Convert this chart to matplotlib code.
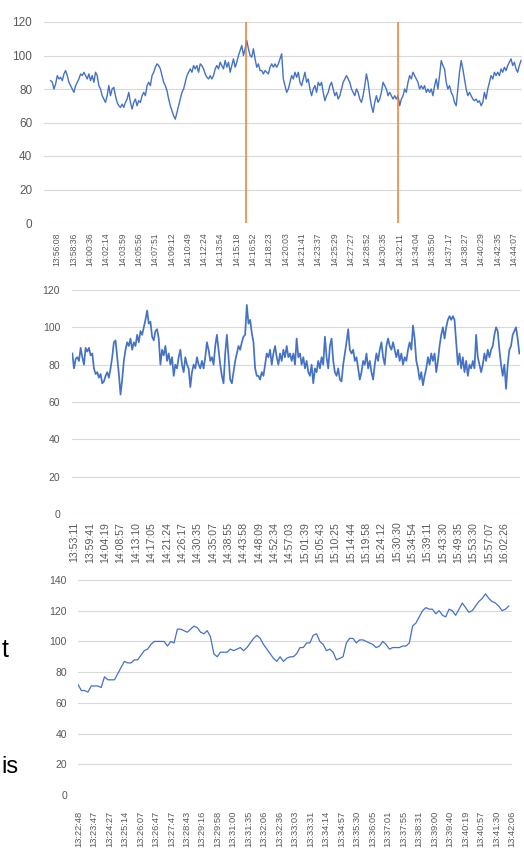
import numpy as np
import matplotlib
matplotlib.use('Agg')
import matplotlib.pyplot as plt

plt.rcParams['font.family'] = ['Liberation Sans', 'DejaVu Sans']

# chart 1: one reading every 5 samples
hr1 = [85, 84, 80, 83, 88, 86, 87, 85, 89, 91, 88, 84, 82, 80, 78, 82, 84, 86, 89, 88,
       90, 88, 86, 89, 85, 88, 84, 90, 88, 82, 80, 76, 74, 72, 76, 82, 76, 80, 81, 76,
       72, 70, 69, 71, 69, 72, 74, 78, 72, 68, 72, 74, 70, 73, 72, 76, 78, 76, 82, 84,
       82, 88, 90, 93, 95, 94, 92, 88, 84, 82, 79, 74, 70, 67, 64, 62, 66, 70, 74, 78,
       80, 84, 88, 90, 92, 90, 94, 92, 94, 90, 95, 94, 92, 89, 87, 86, 88, 86, 88, 92,
       94, 92, 96, 94, 92, 97, 93, 96, 90, 94, 98, 93, 96, 100, 103, 106, 100, 104, 109, 104,
       100, 99, 104, 98, 93, 95, 91, 91, 89, 91, 90, 89, 93, 95, 93, 95, 93, 95, 98, 101,
       86,
       82, 78, 80, 84, 88, 86, 90, 87, 90, 84, 82, 86, 90, 84, 86, 80, 76, 80, 82, 78,
       84, 82, 84, 78, 73, 76, 78, 82, 84, 80, 76, 78, 74, 76, 80, 84, 86, 88, 86, 84,
       80, 78, 76, 80, 78, 74, 72, 76, 82, 89, 84, 76, 70, 66, 72, 76, 72, 74, 78, 84,
       82, 80, 76, 78, 76, 74, 76, 74, 76, 70, 74, 76, 80, 78, 84, 88, 86, 90, 88, 86,
       84, 80, 82, 80, 82, 78, 80, 78, 80, 76, 82, 86, 80, 88, 97, 94, 92, 84, 80, 82,
       78, 76, 72, 70, 80, 90, 97, 92, 86, 80, 76, 78, 76, 74, 73, 74, 72, 73, 70, 72,
       78, 74, 80, 84, 88, 86, 90, 88, 90, 88, 92, 90, 93, 91, 94, 96, 98, 94, 96, 92,
       90, 94, 97]
step1 = 5
marks1 = [588, 1046]
labels1 = ['13:56:08', '13:58:36', '14:00:36', '14:02:14', '14:03:59', '14:05:56', '14:07:51',
           '14:09:12', '14:10:49', '14:12:24', '14:13:54', '14:15:18', '14:16:52', '14:18:23',
           '14:20:03', '14:21:41', '14:23:37', '14:25:29', '14:27:27', '14:28:52', '14:30:35',
           '14:32:11', '14:34:04', '14:35:50', '14:37:17', '14:38:27', '14:40:29', '14:42:35',
           '14:44:07']

# chart 2
hr2 = [86, 78, 83, 84, 82, 89, 84, 80, 89, 87, 89, 85, 86, 78, 75, 76, 73, 75, 70, 71,
       74, 76, 73, 78, 84, 92, 93, 84, 75, 64, 72, 82, 88, 92, 90, 94, 88, 92, 90, 96,
       92, 98, 96, 100, 104, 109, 102, 103, 95, 93, 98, 99, 94, 80, 88, 85, 90, 82, 86, 80,
       84, 74, 80, 78, 84, 88, 80, 76, 84, 80, 78, 68, 76, 80, 78, 84, 80, 78, 82, 78,
       84, 92, 88, 82, 84, 80, 90, 96, 88, 80, 74, 70, 86, 96, 84, 72, 70, 76, 82, 86,
       90, 88, 92, 95, 96, 112, 102, 104, 97, 92, 78, 74, 74, 72, 76, 74, 80, 86, 84, 88,
       80, 86, 90, 84, 80, 86, 82, 88, 84, 90, 84, 86, 82, 86, 80,
       94, 84, 86, 80, 84, 78, 82, 76, 74, 80, 70, 78, 76, 82, 78, 84, 80, 95, 84, 78,
       90, 94, 82, 76, 74, 78, 72, 71, 80, 86, 92, 99, 88, 86, 88, 82, 84, 78, 72, 76,
       82, 80, 86, 78, 82, 76, 72, 80, 86, 82, 88, 92, 84, 80, 90, 94, 90, 88, 92, 88,
       84, 88, 82, 86, 80, 84, 82, 88, 92, 88, 101, 94, 82, 78, 72, 76, 69, 74, 78, 84,
       80, 86, 82, 86, 76, 82, 90, 96, 100, 94, 100, 104, 106, 104, 106, 104, 92, 80, 86, 78,
       84, 76, 82, 74, 80, 78, 82, 78, 96, 84, 80, 76, 80, 86, 82, 88, 84, 88, 90, 96,
       100, 98, 88, 80, 74, 80, 67, 80, 88, 90, 96, 98, 100, 94, 86]
step2 = 5
labels2 = ['13:53:11', '13:59:41', '14:04:19', '14:08:57', '14:13:10', '14:17:05', '14:21:24',
           '14:26:17', '14:30:35', '14:35:07', '14:38:55', '14:43:58', '14:48:09', '14:52:34',
           '14:57:03', '15:01:39', '15:05:43', '15:10:25', '15:14:44', '15:19:58', '15:24:12',
           '15:30:30', '15:34:54', '15:39:11', '15:43:30', '15:49:35', '15:53:30', '15:57:07',
           '16:02:26']

# chart 3: one reading every 10 samples
hr3 = [72, 68, 68, 67, 71, 71, 71, 70, 77, 75, 75, 75, 79, 83, 87, 86, 86, 88, 88, 91,
       94, 95, 98, 100, 100, 100, 100, 97, 100, 99, 108, 108, 107, 106, 108, 110, 109, 106, 105, 107,
       103, 92, 90, 93, 93, 93, 95, 94, 95, 96, 94, 96, 99, 102, 104, 102, 98, 95, 92, 89,
       87, 90, 87, 89, 90, 90, 92, 96, 96, 99, 99, 104, 105, 100, 98, 94, 95, 93, 88, 89,
       90, 99, 102, 102, 99, 101, 101, 100, 99, 98, 96, 97, 100, 98, 95, 96, 96, 96, 97, 97,
       99, 110, 112, 116, 120, 122, 121, 121, 118, 120, 117, 116, 121, 120, 117, 121, 125, 122, 119, 120,
       123, 126, 128, 131, 128, 126, 125, 123, 120, 121, 123]
step3 = 10
labels3 = ['13:22:48', '13:23:47', '13:24:27', '13:25:14', '13:26:07', '13:26:47', '13:27:47',
           '13:28:43', '13:29:16', '13:29:58', '13:31:00', '13:31:35', '13:32:06', '13:32:36',
           '13:33:03', '13:33:31', '13:34:14', '13:34:57', '13:35:30', '13:36:05', '13:37:01',
           '13:37:55', '13:38:31', '13:39:00', '13:39:40', '13:40:19', '13:40:57', '13:41:30',
           '13:42:06']

blue = '#4472C4'
grey = '#595959'
grid = '#d9d9d9'

fig = plt.figure(figsize=(5.24, 8.49), dpi=100)


def panel(rect, vals, step, labels, tick0, tickstep, xlim, ymax, lw, ysize, xsize, xpad, ypad):
    ax = fig.add_axes(rect)
    x = np.arange(len(vals)) * step
    ax.plot(x, vals, color=blue, lw=lw)
    ax.set_xlim(*xlim)
    ax.set_ylim(0, ymax)
    ax.set_yticks(np.arange(0, ymax + 1, 20))
    ax.set_xticks(tick0 + np.arange(len(labels)) * tickstep)
    ax.set_xticklabels(labels, rotation=90, fontsize=xsize, color=grey)
    ax.tick_params(axis='y', labelsize=ysize, labelcolor=grey, length=0, pad=ypad)
    ax.tick_params(axis='x', length=0, pad=xpad)
    ax.grid(axis='y', color=grid, lw=0.8)
    ax.set_axisbelow(True)
    for s in ax.spines.values():
        s.set_visible(False)
    return ax


ax1 = panel([44/524, 1 - 223/849, 478/524, 201/849], hr1, step1, labels1, 20, 49.04,
            (-20, 1418), 120, 1.0, 8.5, 6.2, 7, 8.5)
for m in marks1:
    ax1.axvline(m, color='#ED7D31', lw=1.1)

panel([72/524, 1 - 514/849, 448/524, 224/849], hr2, step2, labels2, 7, 46.18,
      (-1, 1347), 120, 1.25, 7.5, 7.6, 5.5, 8.5)

panel([78/524, 1 - 795/849, 434/524, 215/849], hr3, step3, labels3, 1, 46.75,
      (0, 1305), 140, 0.9, 7.5, 6.7, 11.5, 8)

# cut-off slide text on the left
fig.text(1.5/524, 1 - 657/849, 't', fontsize=18, ha='left', va='baseline', color='black')
fig.text(1.5/524, 1 - 773/849, 'is', fontsize=17, ha='left', va='baseline', color='black')

fig.savefig('out.png', dpi=100)
